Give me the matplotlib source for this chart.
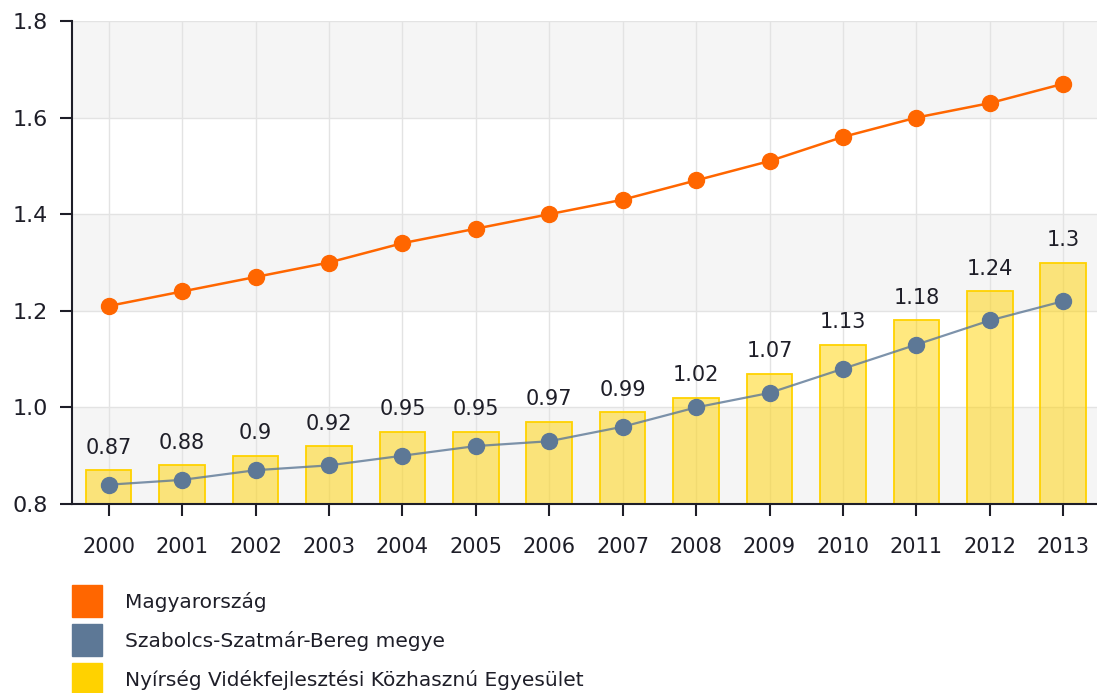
import matplotlib
matplotlib.use("Agg")
import matplotlib.pyplot as plt
from matplotlib.patches import Rectangle

years = ["2000", "2001", "2002", "2003", "2004", "2005", "2006",
         "2007", "2008", "2009", "2010", "2011", "2012", "2013"]
magyar = [1.21, 1.24, 1.27, 1.30, 1.34, 1.37, 1.40, 1.43, 1.47, 1.51, 1.56, 1.60, 1.63, 1.67]
szabolcs = [0.84, 0.85, 0.87, 0.88, 0.90, 0.92, 0.93, 0.96, 1.00, 1.03, 1.08, 1.13, 1.18, 1.22]
nyirseg = [0.87, 0.88, 0.9, 0.92, 0.95, 0.95, 0.97, 0.99, 1.02, 1.07, 1.13, 1.18, 1.24, 1.3]
series_names = ["Magyarország", "Szabolcs-Szatmár-Bereg megye",
                "Nyírség Vidékfejlesztési Közhasznú Egyesület"]
yticks = [0.8, 1.0, 1.2, 1.4, 1.6, 1.8]

c_orange = "#FF6600"
c_blue = "#5D7896"
c_yellow = "#FFD200"
txt = "#1E1E28"

plt.rcParams['font.family'] = ['DejaVu Sans']
fig = plt.figure(figsize=(10.97, 6.93), dpi=100)
ax = fig.add_axes([0.0656, 0.2727, 0.9344, 0.697])

x = list(range(len(years)))

# alternating bands
for i in range(len(yticks) - 1):
    if i % 2 == 0:
        ax.axhspan(yticks[i], yticks[i + 1], color="#F5F5F5", zorder=0, lw=0)
for yv in yticks:
    ax.axhline(yv, color="#E3E3E3", lw=1, zorder=0.5)
for xv in x:
    ax.axvline(xv, color="#E3E3E3", lw=1, zorder=0.5)

ax.bar(x, nyirseg, width=0.62, bottom=0, color=c_yellow, alpha=0.5, zorder=2)
ax.bar(x, nyirseg, width=0.62, bottom=0, facecolor="none", edgecolor=c_yellow,
       lw=1.3, zorder=2.1)
for xi, v in zip(x, nyirseg):
    ax.annotate(f"{v:g}", (xi, v), xytext=(0, 9), textcoords="offset points",
                ha="center", va="bottom", fontsize=15, color=txt, zorder=5)

ax.plot(x, szabolcs, color=c_blue, lw=1.6, alpha=0.8, zorder=3)
ax.plot(x, szabolcs, "o", color=c_blue, ms=11.5, zorder=3.1)
ax.plot(x, magyar, color=c_orange, lw=1.8, zorder=3)
ax.plot(x, magyar, "o", color=c_orange, ms=11.5, zorder=3.1)

ax.set_xlim(-0.5, 13.46)
ax.set_ylim(0.8, 1.8)
ax.set_xticks(x)
ax.set_xticklabels(years)
ax.set_yticks(yticks)
ax.set_yticklabels([f"{v:.1f}" for v in yticks])
ax.tick_params(axis="both", labelsize=15, colors=txt, width=1.5, length=8.5)
ax.tick_params(axis="x", pad=15)
ax.tick_params(axis="y", labelsize=16, pad=9)
for s in ["top", "right"]:
    ax.spines[s].set_visible(False)
for s in ["left", "bottom"]:
    ax.spines[s].set_color(txt)
    ax.spines[s].set_linewidth(1.5)

# legend
W, H = 1097, 693
leg_colors = [c_orange, c_blue, c_yellow]
for k, (name, col) in enumerate(zip(series_names, leg_colors)):
    top = 585 + k * 39
    fig.patches.append(Rectangle((72 / W, 1 - (top + 32) / H), 30 / W, 32 / H,
                                 transform=fig.transFigure, color=col))
    fig.text(125 / W, 1 - (top + 17) / H, name, fontsize=14.5, color=txt,
             va="center", ha="left")

fig.savefig("out.png", dpi=100)
